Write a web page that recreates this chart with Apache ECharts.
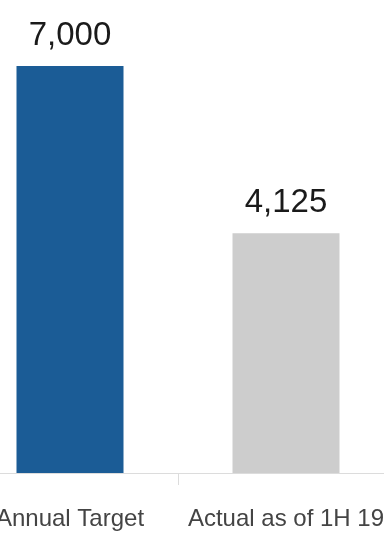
<!DOCTYPE html>
<html><head><meta charset="utf-8">
<script src="https://cdn.jsdelivr.net/npm/echarts@6/dist/echarts.min.js"></script>
<style>html,body{margin:0;padding:0;overflow:hidden;background:#fff;width:384px;height:533px}
#c{position:absolute;left:-38px;top:0;width:432px;height:533px}</style>
</head><body><div id="c"></div>
<script>
const categories = ["Annual Target", "Actual as of 1H 19"];
const values = [7000, 4125];
const colors = ["#1b5c96", "#cdcdcd"];

const chart = echarts.init(document.getElementById('c'));
chart.setOption({
  animation: false,
  grid: {left: 0, right: 0, top: 66, bottom: 60},
  xAxis: {
    type: 'category', data: categories,
    axisLine: {lineStyle: {color: '#dcdcdc', width: 1}},
    axisTick: {show: true, length: 12, lineStyle: {color: '#dcdcdc'}},
    axisLabel: {color: '#444', fontSize: 24, fontFamily: 'Liberation Sans, Arial', margin: 34, interval: 0}
  },
  yAxis: {type: 'value', min: 0, max: 7000, show: false, splitLine: {show: false}},
  series: [{
    type: 'bar', barWidth: 107,
    data: values.map((v, i) => ({value: v, itemStyle: {color: colors[i]}})),
    label: {show: true, position: 'top', distance: 14, color: '#1a1a1a', fontSize: 33,
      fontFamily: 'Liberation Sans, Arial',
      formatter: p => p.value.toLocaleString('en-US')}
  }]
});
</script></body></html>
